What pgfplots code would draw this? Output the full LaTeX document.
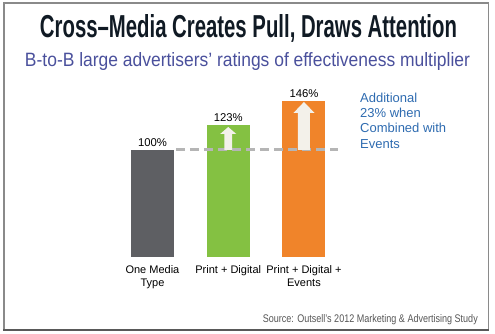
\documentclass[border=0pt]{standalone}
\usepackage{pgfplots}
\pgfplotsset{compat=1.18}
\usepackage{fontspec}
\setmainfont{Liberation Sans}
\usepackage{graphicx}
\definecolor{barGray}{HTML}{5E5F63}
\definecolor{barGreen}{HTML}{84C142}
\definecolor{barOrange}{HTML}{F0842A}
\definecolor{dashGray}{HTML}{B5B5B5}
\definecolor{arrowCream}{HTML}{F3F1EA}
\definecolor{noteBlue}{HTML}{2E6BB0}
\definecolor{titleNavy}{HTML}{101A24}
\definecolor{subPurple}{HTML}{4A509C}
\definecolor{frameGray}{HTML}{8A8A8A}
\definecolor{srcGray}{HTML}{555555}
\begin{document}
\begin{tikzpicture}[x=1pt,y=1pt]
\useasboundingbox (0,0) rectangle (495,334);
\draw[frameGray, line width=1.2pt] (4,4) rectangle (488.5,331);
\draw[black!65, line width=1.8pt] (3.4,4) -- (489.1,4);
\node[titleNavy, anchor=base, inner sep=0] at (248.5,296) {\resizebox{417pt}{23pt}{\bfseries Cross–Media Creates Pull, Draws Attention}};
\node[subPurple, anchor=base, inner sep=0] at (247.5,267) {\resizebox{445pt}{14pt}{B-to-B large advertisers’ ratings of effectiveness multiplier}};
\node[srcGray, anchor=base east, inner sep=0] at (478,11) {\resizebox{215pt}{8pt}{Source: Outsell’s 2012 Marketing \& Advertising Study}};
\node[noteBlue, anchor=north west, align=left, inner sep=0, font=\fontsize{13}{15.4}\selectfont] at (360,241.5) {Additional\\23\% when\\Combined with\\Events};
\begin{axis}[
  at={(114.6pt,77pt)}, anchor=south west,
  scale only axis, width=227.25pt, height=171.2pt,
  xmin=-0.5, xmax=2.5, ymin=0, ymax=160,
  axis line style={draw=none}, tick style={draw=none},
  ytick=\empty, xtick={0,1,2},
  xticklabels={{One Media\\Type},{Print + Digital},{Print + Digital +\\Events}},
  xticklabel style={align=center, font=\fontsize{11}{13}\selectfont, yshift=-5pt},
  /pgf/number format/assume math mode=true,
  clip=false,
]
\addplot[ybar, bar width=43pt, bar shift=0pt, fill=barGray, draw=none,
  nodes near coords={\pgfmathprintnumber{\pgfplotspointmeta}\%},
  every node near coord/.append style={font=\fontsize{11.3}{13}\selectfont, black}]
  coordinates {(0,100)};
\addplot[ybar, bar width=43pt, bar shift=0pt, fill=barGreen, draw=none,
  nodes near coords={\pgfmathprintnumber{\pgfplotspointmeta}\%},
  every node near coord/.append style={font=\fontsize{11.3}{13}\selectfont, black}]
  coordinates {(1,123)};
\addplot[ybar, bar width=43pt, bar shift=0pt, fill=barOrange, draw=none,
  nodes near coords={\pgfmathprintnumber{\pgfplotspointmeta}\%},
  every node near coord/.append style={font=\fontsize{11.3}{13}\selectfont, black}]
  coordinates {(2,146)};
\addplot[dashGray, line width=3pt, dash pattern=on 9pt off 5pt, mark=none]
  coordinates {(0.31,100) (2.45,100)};
\addplot[fill=arrowCream, draw=none, mark=none]
  coordinates {(0.95,100) (0.95,115) (0.894,115) (1,121.5) (1.106,115) (1.05,115) (1.05,100) (0.95,100)};
\addplot[fill=arrowCream, draw=none, mark=none]
  coordinates {(1.921,100) (1.921,134.6) (1.861,134.6) (2,144.9) (2.139,134.6) (2.079,134.6) (2.079,100) (1.921,100)};
\end{axis}
\end{tikzpicture}
\end{document}
